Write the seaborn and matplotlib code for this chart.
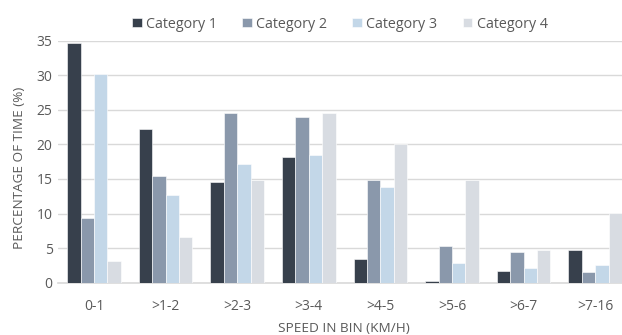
import matplotlib
matplotlib.use("Agg")
import matplotlib.pyplot as plt
import seaborn as sns
import pandas as pd

categories = ["0-1", ">1-2", ">2-3", ">3-4", ">4-5", ">5-6", ">6-7", ">7-16"]
series_names = ["Category 1", "Category 2", "Category 3", "Category 4"]
cat1 = [34.7, 22.3, 14.5, 18.2, 3.4, 0.2, 1.7, 4.8]
cat2 = [9.3, 15.5, 24.6, 24.0, 14.8, 5.3, 4.5, 1.6]
cat3 = [30.2, 12.7, 17.2, 18.4, 13.9, 2.8, 2.1, 2.5]
cat4 = [3.1, 6.6, 14.8, 24.6, 20.0, 14.9, 4.8, 10.1]
colors = ["#333F50", "#8497B0", "#BDD7EE", "#D6DCE4"]

rows = []
for name, vals in zip(series_names, [cat1, cat2, cat3, cat4]):
    for c, v in zip(categories, vals):
        rows.append({"bin": c, "series": name, "value": v})
df = pd.DataFrame(rows)

sns.set_style("white")
plt.rcParams["font.family"] = ["Open Sans", "DejaVu Sans"]
text_color = "#595959"

W, H = 622, 335
fig = plt.figure(figsize=(W / 100, H / 100), dpi=100)
left, right, top, bottom = 58.2, 631.0, 40.7, 282.7
ax = fig.add_axes([left / W, 1 - bottom / H, (right - left) / W, (bottom - top) / H])
sns.barplot(data=df, x="bin", y="value", hue="series", order=categories,
            hue_order=series_names, palette=colors, width=0.75, gap=0,
            edgecolor="white", linewidth=0.4, ax=ax, zorder=3, legend=True)

ax.set_ylim(0, 35)
ax.set_xlim(-0.5, 7.5)
ax.set_yticks(range(0, 36, 5))
ax.yaxis.grid(True, color="#D9D9D9", linewidth=1, zorder=0)
ax.set_axisbelow(True)
for s in ["top", "right", "left"]:
    ax.spines[s].set_visible(False)
ax.spines["bottom"].set_color("#D9D9D9")
ax.spines["bottom"].set_linewidth(1.2)
ax.tick_params(axis="y", length=0, labelsize=10, colors=text_color, pad=4)
ax.tick_params(axis="x", length=0, labelsize=10, colors=text_color, pad=12)
ax.set_xlabel("SPEED IN BIN (KM/H)", fontsize=9.7, color=text_color)
ax.set_ylabel("PERCENTAGE OF TIME (%)", fontsize=9.7, color=text_color)

handles, labels = ax.get_legend_handles_labels()
ax.get_legend().remove()
leg = fig.legend(handles, labels, loc="center", bbox_to_anchor=(340 / W, 1 - 24 / H),
                 ncol=4, frameon=False, fontsize=10.3, handlelength=0.68, handleheight=0.68,
                 handletextpad=0.3, columnspacing=1.75)
for t in leg.get_texts():
    t.set_color(text_color)

ax.yaxis.set_label_coords(20 / W, 0.5, transform=fig.transFigure)
ax.yaxis.label.set_verticalalignment("center")
ax.xaxis.set_label_coords(344 / W, 1 - 328 / H, transform=fig.transFigure)
ax.xaxis.label.set_verticalalignment("center")

fig.savefig("out.png", dpi=100)
